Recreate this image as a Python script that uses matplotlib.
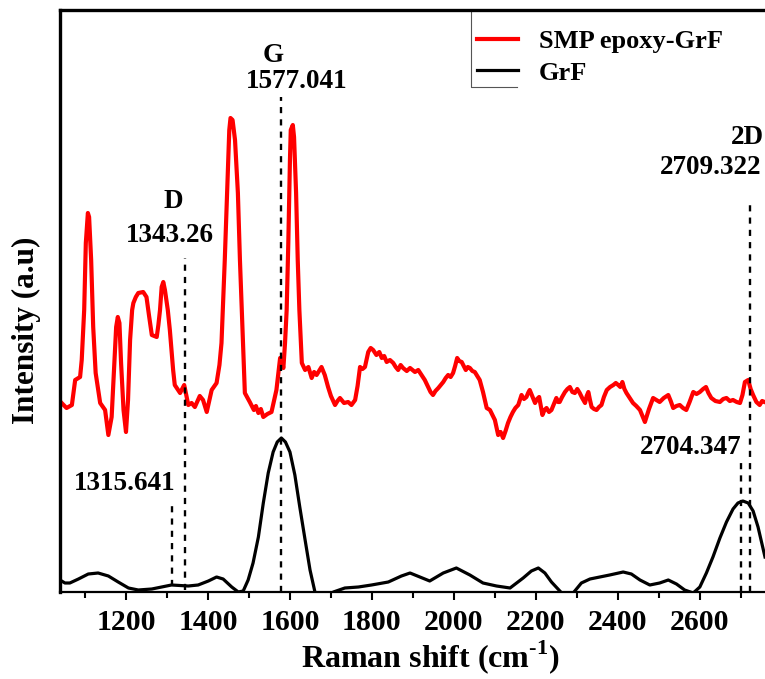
import numpy as np
import matplotlib
matplotlib.use("Agg")
import matplotlib.pyplot as plt
from matplotlib.ticker import MultipleLocator

plt.rcParams['font.family'] = ['Liberation Serif', 'DejaVu Serif']
plt.rcParams['font.weight'] = 'bold'
plt.rcParams['mathtext.fontset'] = 'custom'
plt.rcParams['mathtext.rm'] = 'Liberation Serif:bold'
plt.rcParams['mathtext.bf'] = 'Liberation Serif:bold'

# SMP epoxy-GrF spectrum (red)
smp_x = [1043, 1055, 1068, 1076, 1088, 1092, 1098, 1102, 1107, 1110, 1115, 1120,
         1126, 1137, 1149, 1157, 1165, 1171, 1176, 1180, 1184, 1188, 1194, 1200,
         1205, 1210, 1215, 1218, 1224, 1230, 1242, 1250, 1256, 1263, 1275, 1279,
         1283, 1287, 1291, 1295, 1302, 1307, 1315, 1319, 1332, 1342, 1352, 1360,
         1368, 1380, 1388, 1397, 1409, 1421, 1428, 1433, 1441, 1448, 1452, 1455,
         1460, 1466, 1473, 1478, 1484, 1490, 1502, 1512, 1517, 1523, 1529, 1535,
         1545, 1555, 1567, 1576, 1584, 1588, 1592, 1596, 1600, 1602, 1607, 1610,
         1615, 1619, 1623, 1629, 1637, 1645, 1653, 1659, 1665, 1671, 1677, 1685,
         1693, 1700, 1710, 1716, 1722, 1732, 1742, 1750, 1759, 1765, 1771, 1777,
         1783, 1791, 1797, 1803, 1811, 1818, 1824, 1830, 1836, 1844, 1852, 1858,
         1864, 1870, 1876, 1885, 1893, 1899, 1905, 1913, 1921, 1929, 1937, 1943,
         1949, 1955, 1962, 1968, 1974, 1980, 1986, 1992, 1998, 2003, 2008, 2013,
         2019, 2024, 2029, 2034, 2039, 2045, 2051, 2057, 2063, 2071, 2080, 2088,
         2094, 2100, 2108, 2114, 2120, 2126, 2132, 2138, 2144, 2150, 2157, 2161,
         2165, 2171, 2177, 2181, 2185, 2191, 2198, 2203, 2208, 2212, 2216, 2221,
         2226, 2232, 2238, 2244, 2250, 2254, 2258, 2264, 2271, 2277, 2283, 2289,
         2295, 2301, 2307, 2313, 2320, 2324, 2328, 2332, 2336, 2342, 2348, 2354,
         2360, 2366, 2373, 2381, 2389, 2395, 2401, 2406, 2411, 2416, 2421, 2429,
         2437, 2445, 2454, 2460, 2466, 2476, 2486, 2494, 2502, 2512, 2523, 2529,
         2535, 2543, 2551, 2559, 2567, 2575, 2584, 2592, 2600, 2608, 2615, 2621,
         2628, 2638, 2649, 2657, 2665, 2673, 2681, 2690, 2698, 2704, 2710, 2718,
         2724, 2730, 2738, 2746, 2752, 2758]
smp_y = [189, 184, 187, 212, 215, 232, 282, 349, 379, 375, 332, 265,
         219, 189, 182, 157, 175, 225, 265, 275, 269, 229, 182, 160,
         192, 252, 282, 289, 295, 299, 300, 295, 277, 257, 255, 267,
         282, 305, 310, 302, 282, 262, 222, 207, 199, 207, 187, 189,
         185, 196, 192, 180, 202, 209, 227, 249, 332, 415, 462, 474,
         472, 452, 399, 332, 265, 199, 190, 182, 186, 179, 183, 175,
         178, 180, 202, 234, 224, 249, 282, 349, 432, 462, 467, 455,
         399, 332, 282, 229, 222, 225, 214, 220, 217, 221, 225, 217,
         205, 196, 187, 191, 194, 189, 190, 187, 192, 206, 225, 223,
         225, 240, 244, 242, 237, 240, 234, 236, 230, 232, 229, 225,
         222, 227, 224, 221, 224, 222, 220, 222, 217, 212, 205, 200,
         197, 201, 204, 207, 210, 214, 217, 215, 219, 226, 234, 231,
         230, 226, 222, 225, 224, 221, 220, 216, 212, 200, 184, 182,
         177, 172, 157, 160, 154, 161, 169, 175, 180, 184, 187, 192,
         197, 193, 195, 199, 202, 196, 189, 193, 195, 186, 177, 182,
         184, 180, 182, 188, 194, 190, 190, 195, 200, 203, 205, 200,
         199, 203, 199, 194, 189, 196, 200, 192, 185, 183, 182, 185,
         187, 195, 202, 205, 207, 209, 207, 205, 210, 203, 199, 194,
         189, 186, 182, 176, 170, 183, 194, 192, 190, 194, 197, 191,
         184, 186, 187, 184, 182, 190, 200, 198, 200, 203, 205, 199,
         194, 191, 190, 193, 194, 191, 192, 190, 189, 197, 210, 212,
         203, 197, 190, 187, 191, 190]

# GrF spectrum (black)
grf_x = [1039, 1051, 1063, 1084, 1108, 1132, 1157, 1181, 1206, 1230, 1263, 1287,
         1311, 1352, 1376, 1401, 1421, 1437, 1458, 1474, 1486, 1498, 1510, 1523,
         1535, 1547, 1559, 1569, 1579, 1589, 1600, 1612, 1624, 1637, 1649, 1661,
         1676, 1689, 1706, 1734, 1767, 1799, 1840, 1872, 1893, 1917, 1941, 1974,
         2006, 2039, 2071, 2104, 2137, 2169, 2189, 2206, 2222, 2238, 2263, 2275,
         2291, 2311, 2332, 2356, 2380, 2413, 2433, 2454, 2478, 2502, 2523, 2543,
         2563, 2584, 2600, 2616, 2632, 2649, 2665, 2681, 2693, 2705, 2718, 2730,
         2742, 2759]
grf_y = [12, 9, 9, 13, 18, 19, 16, 10, 4, 2, 3, 5,
         7, 6, 7, 11, 15, 13, 5, 0, 1, 12, 29, 55,
         89, 119, 140, 150, 154, 150, 140, 117, 85, 52, 22, 0,
         -15, -15, 0, 4, 5, 7, 10, 16, 19, 15, 11, 19,
         24, 17, 9, 6, 4, 14, 21, 24, 19, 10, -1, -6,
         -1, 9, 13, 15, 17, 20, 18, 12, 7, 9, 12, 8,
         2, -1, 5, 19, 35, 54, 70, 83, 89, 91, 89, 81,
         65, 35]

# peak markers: x position, bottom, top
peak_x = [1312, 1344, 1578, 2700, 2722]
peak_lo = [6, 2, 0, 0, 0]
peak_hi = [87, 334, 495, 129, 392]

# annotation texts
ann_text = ["D", "1343.26", "G", "1577.041", "2D", "2709.322", "1315.641", "2704.347"]
ann_pos = [(1315, 390), (1307, 357), (1558, 537), (1616, 510),
           (2717, 455), (2627, 424), (1198, 109), (2578, 144)]

fig = plt.figure(figsize=(7.65, 6.79), dpi=100)
ax = fig.add_axes([60 / 765, 87 / 679, 705 / 765, 582 / 679])

ax.plot(smp_x, smp_y, color='#ff0000', lw=3.0, label='SMP epoxy-GrF',
        solid_joinstyle='round')
ax.plot(grf_x, grf_y, color='black', lw=2.3, label='GrF', solid_joinstyle='round')

for px, lo, hi in zip(peak_x, peak_lo, peak_hi):
    ax.plot([px, px], [lo, hi], color='black', lw=1.7, dashes=(2.6, 2.6))

for t, (tx, ty) in zip(ann_text, ann_pos):
    ax.text(tx, ty, t, fontsize=19.5, fontweight='bold', ha='center', va='center')

ax.set_xlim(1039, 2759)
ax.set_ylim(0, 582)
ax.xaxis.set_minor_locator(MultipleLocator(100))
ax.set_xticks(np.arange(1200, 2700, 200))
ax.set_yticks([])
ax.tick_params(axis='x', which='major', direction='out', length=6, width=1.5,
               labelsize=21.5, pad=6)
ax.tick_params(axis='x', which='minor', direction='out', length=4, width=1.5)
for lab in ax.get_xticklabels():
    lab.set_fontweight('bold')

ax.spines['right'].set_visible(False)
ax.spines['left'].set_linewidth(2.4)
ax.spines['top'].set_linewidth(2.4)
ax.spines['bottom'].set_linewidth(1.6)

ax.set_xlabel(r'Raman shift (cm$^{\text{-1}}$)', fontsize=23, fontweight='bold')
ax.xaxis.set_label_coords(0.525, -0.08)
ax.set_ylabel('Intensity (a.u)', fontsize=22.5, fontweight='bold')
ax.yaxis.set_label_coords(-0.027, 0.45)

leg = ax.legend(loc='upper left', bbox_to_anchor=(0.591, 0.966), frameon=False,
                prop={'size': 19, 'weight': 'bold'}, handlelength=1.55,
                handletextpad=0.8, labelspacing=0.3, borderpad=0, borderaxespad=0)
# partial legend frame (left and bottom edges)
ax.plot([0.5826, 0.5826, 0.6485], [1.0, 0.868, 0.868], transform=ax.transAxes,
        color='#555555', lw=0.8, clip_on=False)

fig.savefig('out.png', dpi=100)
